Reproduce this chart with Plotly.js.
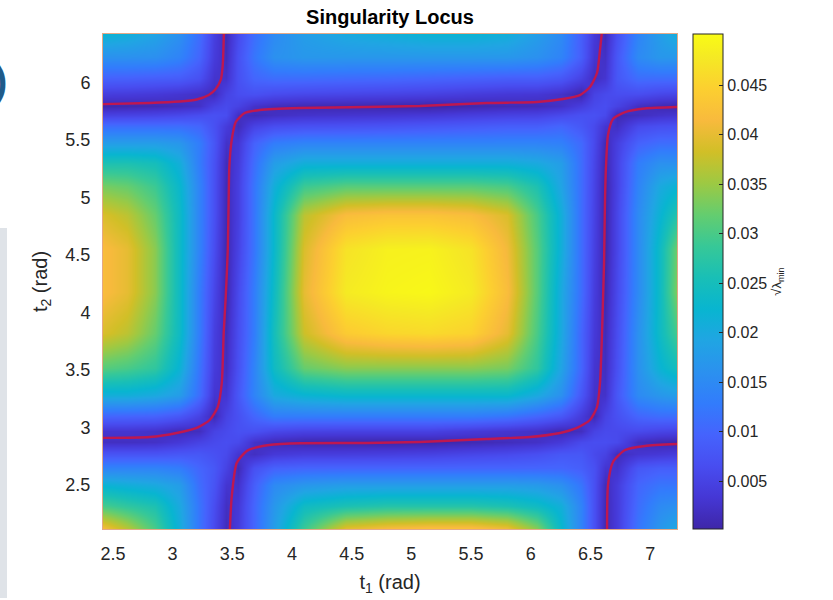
<!DOCTYPE html>
<html>
<head>
<meta charset="utf-8">
<script src="https://cdn.plot.ly/plotly-3.0.1.min.js"></script>
<style>html,body{margin:0;padding:0;background:#fff;}#chart{width:833px;height:600px;}</style>
</head>
<body>
<div id="chart"></div>
<script>
// ---- grid nodes (rad) ----
const t1Nodes = [2.41, 2.62, 2.85, 3.05, 3.22, 3.35, 3.45, 3.55, 3.68, 3.85, 4.1, 4.45, 4.8, 5.15, 5.5, 5.8, 6.05, 6.25, 6.42, 6.53, 6.62, 6.72, 6.9, 7.08, 7.23];
const t2Nodes = [2.12, 2.32, 2.5, 2.65, 2.77, 2.87, 2.97, 3.1, 3.28, 3.52, 3.82, 4.18, 4.55, 4.85, 5.1, 5.3, 5.47, 5.62, 5.72, 5.8, 5.9, 6.04, 6.22, 6.42];

// ---- sqrt(lambda_min), one row per t2 node ----
const zRow212 = [0.042, 0.037, 0.030, 0.021, 0.012, 0.006, 0.0015, 0.004, 0.010, 0.018, 0.029, 0.040, 0.042, 0.043, 0.043, 0.041, 0.034, 0.023, 0.014, 0.007, 0.001, 0.004, 0.012, 0.017, 0.020];
const zRow232 = [0.030, 0.028, 0.026, 0.020, 0.012, 0.0065, 0.002, 0.0035, 0.010, 0.017, 0.024, 0.026, 0.027, 0.027, 0.027, 0.026, 0.024, 0.021, 0.014, 0.007, 0.0012, 0.004, 0.011, 0.015, 0.016];
const zRow250 = [0.022, 0.021, 0.020, 0.018, 0.011, 0.0075, 0.003, 0.0025, 0.009, 0.015, 0.017, 0.018, 0.018, 0.018, 0.018, 0.018, 0.0175, 0.016, 0.012, 0.007, 0.0015, 0.004, 0.010, 0.012, 0.012];
const zRow265 = [0.014, 0.014, 0.014, 0.013, 0.010, 0.008, 0.005, 0.0012, 0.007, 0.0095, 0.010, 0.010, 0.010, 0.010, 0.010, 0.010, 0.010, 0.010, 0.009, 0.007, 0.003, 0.0025, 0.008, 0.009, 0.009];
const zRow277 = [0.0075, 0.0075, 0.0075, 0.008, 0.008, 0.007, 0.006, 0.003, 0.002, 0.0036, 0.0042, 0.0043, 0.0045, 0.0048, 0.0055, 0.006, 0.0068, 0.008, 0.008, 0.006, 0.005, 0.0015, 0.003, 0.0035, 0.004];
const zRow287 = [0.002, 0.002, 0.0023, 0.0035, 0.005, 0.006, 0.0065, 0.006, 0.0025, 0.0012, 0.0005, 0.0004, 0.0003, 0.0003, 0.001, 0.0016, 0.0023, 0.0037, 0.006, 0.0065, 0.0065, 0.006, 0.0018, 0.0009, 0.0006];
const zRow297 = [0.003, 0.003, 0.0025, 0.0013, 0.0017, 0.005, 0.006, 0.007, 0.007, 0.0057, 0.005, 0.0048, 0.0048, 0.0048, 0.0038, 0.003, 0.0023, 0.0009, 0.0018, 0.005, 0.006, 0.006, 0.006, 0.0053, 0.005];
const zRow310 = [0.010, 0.0098, 0.0095, 0.008, 0.005, 0.001, 0.005, 0.007, 0.010, 0.013, 0.013, 0.013, 0.013, 0.013, 0.013, 0.012, 0.010, 0.008, 0.004, 0.001, 0.005, 0.007, 0.010, 0.011, 0.011];
const zRow328 = [0.021, 0.021, 0.020, 0.018, 0.011, 0.003, 0.003, 0.008, 0.014, 0.020, 0.022, 0.023, 0.023, 0.023, 0.023, 0.023, 0.020, 0.016, 0.008, 0.0025, 0.0025, 0.008, 0.015, 0.017, 0.018];
const zRow352 = [0.031, 0.030, 0.028, 0.022, 0.012, 0.004, 0.0018, 0.007, 0.014, 0.024, 0.032, 0.034, 0.034, 0.034, 0.034, 0.033, 0.028, 0.019, 0.010, 0.003, 0.0018, 0.007, 0.016, 0.022, 0.025];
const zRow382 = [0.039, 0.037, 0.032, 0.024, 0.013, 0.0045, 0.0013, 0.0065, 0.013, 0.025, 0.038, 0.044, 0.0455, 0.046, 0.045, 0.040, 0.030, 0.020, 0.010, 0.0037, 0.0013, 0.0065, 0.016, 0.024, 0.030];
const zRow418 = [0.042, 0.040, 0.034, 0.024, 0.013, 0.0055, 0.0006, 0.006, 0.013, 0.024, 0.040, 0.048, 0.0493, 0.0497, 0.048, 0.042, 0.031, 0.020, 0.011, 0.0042, 0.0007, 0.006, 0.015, 0.024, 0.034];
const zRow455 = [0.042, 0.040, 0.034, 0.024, 0.014, 0.0065, 0.0007, 0.005, 0.012, 0.023, 0.039, 0.047, 0.0488, 0.049, 0.047, 0.041, 0.031, 0.021, 0.011, 0.0047, 0.0003, 0.0055, 0.015, 0.024, 0.033];
const zRow485 = [0.039, 0.037, 0.032, 0.024, 0.014, 0.007, 0.001, 0.0045, 0.012, 0.023, 0.037, 0.042, 0.043, 0.043, 0.042, 0.039, 0.030, 0.021, 0.011, 0.005, 0.0002, 0.0055, 0.015, 0.022, 0.027];
const zRow510 = [0.033, 0.032, 0.029, 0.023, 0.014, 0.007, 0.0012, 0.0045, 0.012, 0.021, 0.029, 0.031, 0.031, 0.031, 0.031, 0.030, 0.026, 0.019, 0.011, 0.0052, 0.0003, 0.005, 0.014, 0.020, 0.022];
const zRow530 = [0.026, 0.026, 0.025, 0.021, 0.013, 0.0072, 0.0015, 0.004, 0.011, 0.018, 0.021, 0.021, 0.021, 0.021, 0.021, 0.021, 0.020, 0.018, 0.011, 0.0055, 0.0007, 0.005, 0.013, 0.016, 0.016];
const zRow547 = [0.018, 0.018, 0.018, 0.017, 0.013, 0.0078, 0.0024, 0.0033, 0.0095, 0.013, 0.014, 0.014, 0.014, 0.014, 0.014, 0.014, 0.014, 0.0135, 0.0105, 0.006, 0.0012, 0.0045, 0.0095, 0.011, 0.011];
const zRow562 = [0.011, 0.011, 0.011, 0.011, 0.010, 0.007, 0.004, 0.0015, 0.005, 0.0065, 0.007, 0.0072, 0.0075, 0.008, 0.0085, 0.009, 0.009, 0.010, 0.008, 0.006, 0.003, 0.002, 0.006, 0.0068, 0.007];
const zRow572 = [0.0048, 0.005, 0.0053, 0.0058, 0.0065, 0.007, 0.0065, 0.002, 0.0012, 0.002, 0.0026, 0.0029, 0.0032, 0.0036, 0.0043, 0.0048, 0.005, 0.006, 0.007, 0.007, 0.006, 0.001, 0.0017, 0.0026, 0.003];
const zRow580 = [0.0006, 0.0008, 0.0011, 0.0016, 0.0023, 0.005, 0.006, 0.005, 0.0025, 0.0016, 0.001, 0.0007, 0.0005, 0.0002, 0.0007, 0.0012, 0.0014, 0.0023, 0.0043, 0.006, 0.0065, 0.005, 0.002, 0.001, 0.0006];
const zRow590 = [0.0042, 0.004, 0.0036, 0.003, 0.0023, 0.0015, 0.005, 0.0065, 0.007, 0.0062, 0.0057, 0.0054, 0.0051, 0.0047, 0.004, 0.0035, 0.0033, 0.0024, 0.0005, 0.005, 0.006, 0.0065, 0.0065, 0.0056, 0.0052];
const zRow604 = [0.0095, 0.0094, 0.009, 0.0087, 0.007, 0.0028, 0.0025, 0.007, 0.010, 0.011, 0.011, 0.0107, 0.0105, 0.010, 0.0095, 0.009, 0.009, 0.008, 0.005, 0.0018, 0.003, 0.008, 0.011, 0.011, 0.011];
const zRow622 = [0.016, 0.016, 0.0158, 0.014, 0.010, 0.004, 0.0016, 0.007, 0.012, 0.016, 0.017, 0.017, 0.017, 0.017, 0.017, 0.017, 0.016, 0.014, 0.009, 0.003, 0.0022, 0.008, 0.015, 0.017, 0.017];
const zRow642 = [0.022, 0.021, 0.019, 0.016, 0.011, 0.0045, 0.0012, 0.006, 0.011, 0.015, 0.018, 0.020, 0.021, 0.022, 0.022, 0.021, 0.018, 0.015, 0.009, 0.0037, 0.0013, 0.0068, 0.014, 0.018, 0.021];

// ---- singularity locus (red curves) ----
const locusA_t1 = [3.43, 3.420, 3.403, 3.361, 3.303, 3.202, 3.060, 2.808, 2.40];
const locusA_t2 = [6.45, 6.152, 6.022, 5.943, 5.891, 5.852, 5.835, 5.822, 5.812];
const locusB_t1 = [2.40, 2.808, 3.034, 3.202, 3.311, 3.378, 3.412, 3.428, 3.445, 3.462, 3.470, 3.475, 3.495, 3.529, 3.604, 3.730, 4.065, 4.627, 5.071, 5.633, 6.052, 6.270, 6.412, 6.496, 6.555, 6.580, 6.597];
const locusB_t2 = [2.909, 2.917, 2.952, 2.996, 3.065, 3.178, 3.387, 3.822, 4.135, 4.543, 5.004, 5.265, 5.500, 5.657, 5.735, 5.761, 5.778, 5.787, 5.796, 5.822, 5.830, 5.857, 5.891, 5.961, 6.083, 6.283, 6.45];
const locusC_t1 = [3.479, 3.495, 3.537, 3.621, 3.755, 3.982, 4.627, 5.071, 5.633, 5.993, 6.245, 6.387, 6.496, 6.555, 6.580, 6.597, 6.605, 6.614, 6.622, 6.630, 6.647, 6.689, 6.790, 6.957, 7.24];
const locusC_t2 = [2.10, 2.396, 2.691, 2.796, 2.839, 2.861, 2.865, 2.874, 2.900, 2.917, 2.952, 2.996, 3.065, 3.178, 3.387, 3.822, 4.109, 4.430, 4.978, 5.265, 5.543, 5.683, 5.743, 5.774, 5.787];
const locusD_t1 = [6.639, 6.647, 6.689, 6.790, 6.957, 7.24];
const locusD_t2 = [2.10, 2.500, 2.700, 2.804, 2.839, 2.857];

// ---- ticks ----
const t1Ticks = [2.5, 3, 3.5, 4, 4.5, 5, 5.5, 6, 6.5, 7];
const t2Ticks = [2.5, 3, 3.5, 4, 4.5, 5, 5.5, 6];
const cbTicks = [0.005, 0.01, 0.015, 0.02, 0.025, 0.03, 0.035, 0.04, 0.045];
const cbTickText = ['0.005', '0.01', '0.015', '0.02', '0.025', '0.03', '0.035', '0.04', '0.045'];

const zGrid = [zRow212, zRow232, zRow250, zRow265, zRow277, zRow287, zRow297, zRow310, zRow328, zRow352,
  zRow382, zRow418, zRow455, zRow485, zRow510, zRow530, zRow547, zRow562, zRow572, zRow580,
  zRow590, zRow604, zRow622, zRow642];

const parula = [
  [0.0000, 'rgb(62,38,168)'], [0.0635, 'rgb(69,55,213)'], [0.1270, 'rgb(72,77,240)'],
  [0.1905, 'rgb(69,99,253)'], [0.2540, 'rgb(50,124,252)'], [0.3175, 'rgb(43,145,239)'],
  [0.3810, 'rgb(32,165,227)'], [0.4444, 'rgb(8,181,208)'], [0.5079, 'rgb(25,191,182)'],
  [0.5714, 'rgb(55,200,151)'], [0.6349, 'rgb(100,205,111)'], [0.6984, 'rgb(157,201,67)'],
  [0.7619, 'rgb(209,191,39)'], [0.8254, 'rgb(248,186,61)'], [0.8889, 'rgb(252,207,48)'],
  [0.9524, 'rgb(245,233,36)'], [1.0000, 'rgb(249,251,21)']
];

const FONT = 'Liberation Sans, Arial, Helvetica, sans-serif';
const lineStyle = {color: '#be1850', width: 2.4, shape: 'spline', smoothing: 0.6};

const traces = [
  {
    type: 'heatmap', x: t1Nodes, y: t2Nodes, z: zGrid, zsmooth: 'best',
    colorscale: parula, zmin: 0.00015, zmax: 0.0502, hoverinfo: 'skip',
    colorbar: {
      x: 1.028, xanchor: 'left', xpad: 0, y: 0.5, yanchor: 'middle', ypad: 0,
      len: 1, lenmode: 'fraction', thickness: 30, thicknessmode: 'pixels',
      outlinecolor: '#262626', outlinewidth: 1,
      tickvals: cbTicks, ticktext: cbTickText, ticks: 'inside', ticklen: 4, tickcolor: '#262626',
      tickprefix: '\u00a0', tickfont: {family: FONT, size: 16, color: '#262626'},
      title: {text: '\u221A\u03BB<sub>min</sub>', side: 'right', font: {family: FONT, size: 13, color: '#262626'}}
    }
  },
  {type: 'scatter', mode: 'lines', x: locusA_t1, y: locusA_t2, line: lineStyle, hoverinfo: 'skip', showlegend: false},
  {type: 'scatter', mode: 'lines', x: locusB_t1, y: locusB_t2, line: lineStyle, hoverinfo: 'skip', showlegend: false},
  {type: 'scatter', mode: 'lines', x: locusC_t1, y: locusC_t2, line: lineStyle, hoverinfo: 'skip', showlegend: false},
  {type: 'scatter', mode: 'lines', x: locusD_t1, y: locusD_t2, line: lineStyle, hoverinfo: 'skip', showlegend: false}
];

const layout = {
  width: 833, height: 600,
  margin: {l: 103, r: 156, t: 34, b: 71, pad: 0},
  paper_bgcolor: '#ffffff', plot_bgcolor: '#ffffff',
  font: {family: FONT, color: '#262626'},
  showlegend: false,
  title: {
    text: '<b>Singularity Locus</b>', font: {family: FONT, size: 20, color: '#000000'},
    x: 0.5, xref: 'paper', xanchor: 'center', y: 1 - 17 / 600, yref: 'container', yanchor: 'middle'
  },
  xaxis: {
    range: [2.417, 7.225], tickvals: t1Ticks, ticks: 'outside', ticklen: 8, tickcolor: 'rgba(0,0,0,0)',
    tickfont: {family: FONT, size: 18, color: '#262626'},
    showline: true, mirror: true, linecolor: '#e3a987', linewidth: 1,
    showgrid: false, zeroline: false, fixedrange: true,
    title: {text: 't<sub>1</sub> (rad)', font: {family: FONT, size: 20, color: '#262626'}, standoff: 12}
  },
  yaxis: {
    range: [2.117, 6.422], tickvals: t2Ticks, ticks: 'outside', ticklen: 8, tickcolor: 'rgba(0,0,0,0)',
    tickfont: {family: FONT, size: 18, color: '#262626'},
    showline: true, mirror: true, linecolor: '#e3a987', linewidth: 1,
    showgrid: false, zeroline: false, fixedrange: true,
    title: {text: 't<sub>2</sub> (rad)', font: {family: FONT, size: 20, color: '#262626'}, standoff: 12}
  },
  shapes: [
    {type: 'rect', xref: 'paper', yref: 'paper', x0: -0.1795, x1: -0.1672, y0: -0.1394, y1: 0.6081,
     fillcolor: '#dfe3e8', line: {width: 0}, layer: 'below'}
  ],
  annotations: [
    {xref: 'paper', yref: 'paper', x: -0.163, y: 0.905, xanchor: 'right', yanchor: 'middle',
     text: '<b>)</b>', showarrow: false, font: {family: FONT, size: 40, color: '#1f5b8a'}}
  ]
};

Plotly.newPlot('chart', traces, layout, {displayModeBar: false, staticPlot: true});
</script>
</body>
</html>
